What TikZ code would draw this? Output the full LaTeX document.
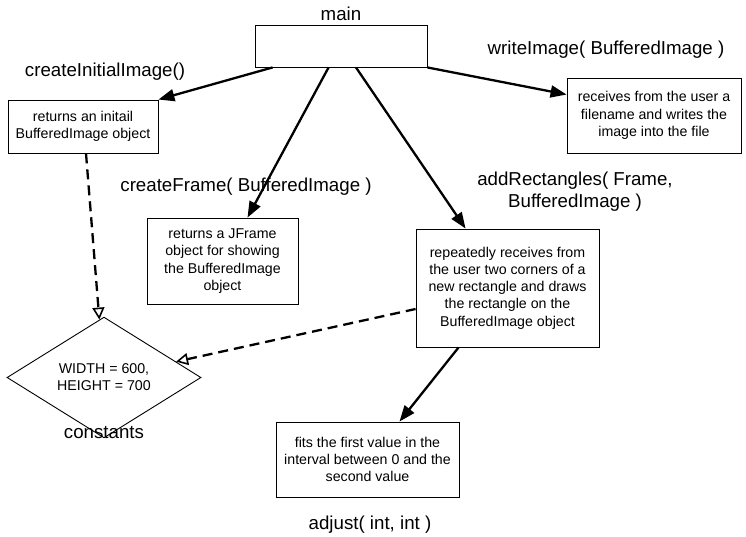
\documentclass[tikz,border=0pt]{standalone}
\usepackage{fontspec}
\setmainfont{Liberation Sans}
\usetikzlibrary{arrows.meta,shapes.geometric}

\tikzset{
  fnbox/.style={draw, line width=0.9pt, align=center, inner sep=0pt,
    font=\fontsize{14.2}{17.2}\selectfont},
  fnlabel/.style={align=center, font=\fontsize{18.7}{22}\selectfont},
  call/.style={line width=2.3pt, -{Triangle[length=16pt,width=12pt]}},
  uses/.style={line width=2.3pt, dash pattern=on 10pt off 6pt,
    -{Triangle[open,length=12pt,width=12pt,line width=1.6pt]}},
}

\begin{document}
\begin{tikzpicture}[x=1pt, y=-1pt]
\useasboundingbox (0,0) rectangle (746,536);

% the methods
\node[fnbox, minimum width=172pt, minimum height=42pt] (main) at (341,46) {};
\node[fnbox, minimum width=150pt, minimum height=53pt] (init) at (83,126.5)
  {returns an initail\\BufferedImage object};
\node[fnbox, minimum width=174pt, minimum height=75pt] (write) at (654,115.5)
  {receives from the user a\\filename and writes the\\image into the file};
\node[fnbox, minimum width=151pt, minimum height=86pt] (frame) at (222.5,261)
  {returns a JFrame\\object for showing\\the BufferedImage\\object};
\node[fnbox, minimum width=183pt, minimum height=118pt] (add) at (507.5,288)
  {repeatedly receives from\\the user two corners of a\\new rectangle and draws\\the rectangle on the\\BufferedImage object};
\node[fnbox, minimum width=183pt, minimum height=75pt] (adjust) at (367.5,459.5)
  {fits the first value in the\\interval between 0 and the\\second value};
\node[draw, shape=diamond, line width=0.9pt, inner sep=0pt, align=center,
  minimum width=194pt, minimum height=89pt, font=\fontsize{14.2}{17.2}\selectfont]
  (const) at (104,377.5) {WIDTH = 600,\\HEIGHT = 700};

% names
\node[fnlabel] (main_lbl) at (341,14) {main};
\node[fnlabel] (init_lbl) at (105,72) {createInitialImage()};
\node[fnlabel] (write_lbl) at (606,50) {writeImage( BufferedImage )};
\node[fnlabel] (frame_lbl) at (246,187) {createFrame( BufferedImage )};
\node[fnlabel] (add_lbl) at (575,192) {addRectangles( Frame,\\BufferedImage )};
\node[fnlabel] (const_lbl) at (104,433) {constants};
\node[fnlabel] (adjust_lbl) at (370,525) {adjust( int, int )};

% calls
\draw[call] ([xshift=18pt]main.south west) -- (init.north east);
\draw[call] (main.south east) -- ([yshift=-17pt]write.north west);
\draw[call] ([xshift=74pt]main.south west) -- ([xshift=25pt]frame.north);
\draw[call] ([xshift=15pt]main.south) -- ([xshift=50pt]add.north west);
\draw[call] ([xshift=43pt]add.south west) -- ([xshift=32pt]adjust.north);

% constants used
\draw[uses] ([xshift=3pt]init.south) -- (const);
\draw[uses] ([yshift=-21pt]add.west) -- (const);
\end{tikzpicture}
\end{document}
